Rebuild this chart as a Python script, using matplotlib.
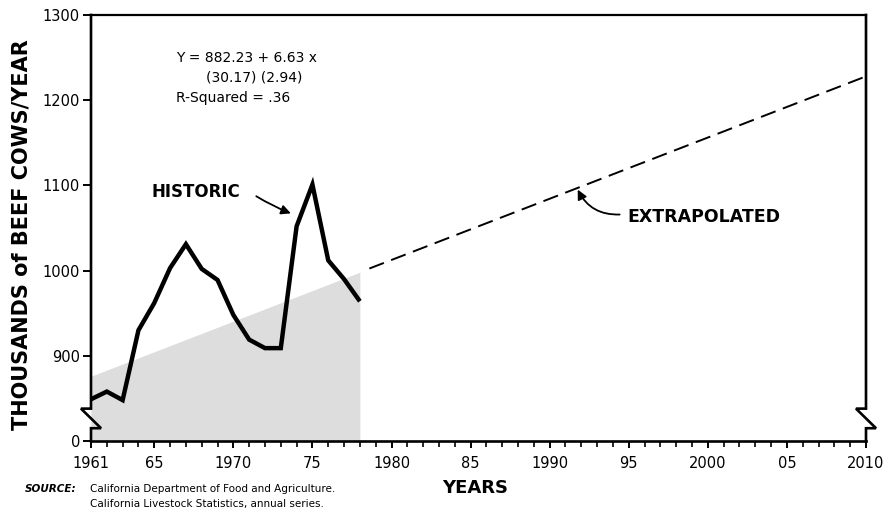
import numpy as np
import matplotlib
matplotlib.use("Agg")
import matplotlib.pyplot as plt
import matplotlib.transforms as mtransforms

# Beef cow numbers, California, thousands per year
hist_years = list(range(1961, 1979))
hist_values = [849, 858, 848, 930, 962, 1003, 1031, 1002, 989, 948,
               919, 909, 909, 1052, 1101, 1012, 990, 964]

# Fitted trend: value at first year and at end of projection
trend_years = [1961, 2010]
trend_values = [876, 1228]
proj_start = 1978.6

xtick_pos = [1961, 1965, 1970, 1975, 1980, 1985, 1990, 1995, 2000, 2005, 2010]
xtick_labels = ["1961", "65", "1970", "75", "1980", "85", "1990", "95", "2000", "05", "2010"]
ytick_pos = [800, 900, 1000, 1100, 1200, 1300]
ytick_labels = ["0", "900", "1000", "1100", "1200", "1300"]

equation = ["Y = 882.23 + 6.63 x", "(30.17) (2.94)", "R-Squared = .36"]

fig = plt.figure(figsize=(8.93, 5.11), dpi=100)
W, H = 893, 511
ax = fig.add_axes([91 / W, 1 - 441 / H, (866 - 91) / W, (441 - 15) / H])
ax.set_xlim(1961, 2010)
ax.set_ylim(800, 1300)

# shaded area under the trend over the historic period
shade_x = np.array([hist_years[0], hist_years[-1]])
shade_top = np.interp(shade_x, trend_years, trend_values)
ax.fill_between(shade_x, 800, shade_top, color="#dddddd", lw=0, zorder=1)

ax.plot(hist_years, hist_values, color="black", lw=3.2, solid_joinstyle="miter",
        solid_capstyle="butt", zorder=3)

proj_x = np.array([proj_start, trend_years[-1]])
proj_y = np.interp(proj_x, trend_years, trend_values)
ax.plot(proj_x, proj_y, color="black", lw=1.4, ls=(0, (8, 4)), zorder=3, clip_on=False)

# axis frame with broken left and right sides
for s in ["left", "right"]:
    ax.spines[s].set_visible(False)
ax.spines["bottom"].set_linewidth(1.9)
ax.spines["top"].set_linewidth(1.6)
trans = mtransforms.blended_transform_factory(ax.transAxes, ax.transData)
dx = 10 / 775
for x0 in [0, 1]:
    ax.plot([x0, x0, x0 - dx, x0 + dx, x0, x0],
            [1300, 838, 838, 815, 815, 800],
            transform=trans, color="black", lw=1.9, clip_on=False, zorder=4,
            solid_joinstyle="miter")

ax.set_xticks(xtick_pos)
ax.set_xticklabels(xtick_labels)
ax.set_xticks(range(1961, 2011), minor=True)
ax.set_yticks(ytick_pos)
ax.set_yticklabels(ytick_labels)
ax.tick_params(axis="x", which="major", direction="out", length=5, width=1.4,
               pad=6, labelsize=10.5)
ax.tick_params(axis="x", which="minor", direction="out", length=4, width=1.2)
ax.tick_params(axis="y", direction="out", length=6, width=1.4, pad=2, labelsize=10.5)

# regression note
ax.text(1966.4, 1250, equation[0], fontsize=10, va="center", ha="left")
ax.text(1968.3, 1227, equation[1], fontsize=10, va="center", ha="left")
ax.text(1966.4, 1203, equation[2], fontsize=10, va="center", ha="left")

ax.text(1967.6, 1092, "HISTORIC", fontsize=12, fontweight="bold", ha="center", va="center")
ax.annotate("", xy=(1973.8, 1066), xytext=(1971.3, 1089),
            arrowprops=dict(arrowstyle="-|>", color="black", lw=1.3,
                            mutation_scale=14, connectionstyle="arc3,rad=0.05"))

ax.text(1994.9, 1063, "EXTRAPOLATED", fontsize=12.5, fontweight="bold", ha="left", va="center")
ax.annotate("", xy=(1991.7, 1098), xytext=(1994.6, 1066),
            arrowprops=dict(arrowstyle="-|>", color="black", lw=1.3,
                            mutation_scale=14, connectionstyle="arc3,rad=-0.35"))

fig.text(22 / W, 1 - 235 / H, "THOUSANDS of BEEF COWS/YEAR", rotation=90,
         fontsize=15, fontweight="bold", ha="center", va="center")
fig.text(475 / W, 1 - 488 / H, "YEARS", fontsize=13, fontweight="bold",
         ha="center", va="center")

fig.text(25 / W, 1 - 489 / H, "SOURCE:", fontsize=7.5, fontweight="bold",
         style="italic", ha="left", va="center")
fig.text(90 / W, 1 - 489 / H, "California Department of Food and Agriculture.",
         fontsize=7.5, ha="left", va="center")
fig.text(90 / W, 1 - 504 / H, "California Livestock Statistics, annual series.",
         fontsize=7.5, ha="left", va="center")

fig.savefig("out.png", dpi=100)
